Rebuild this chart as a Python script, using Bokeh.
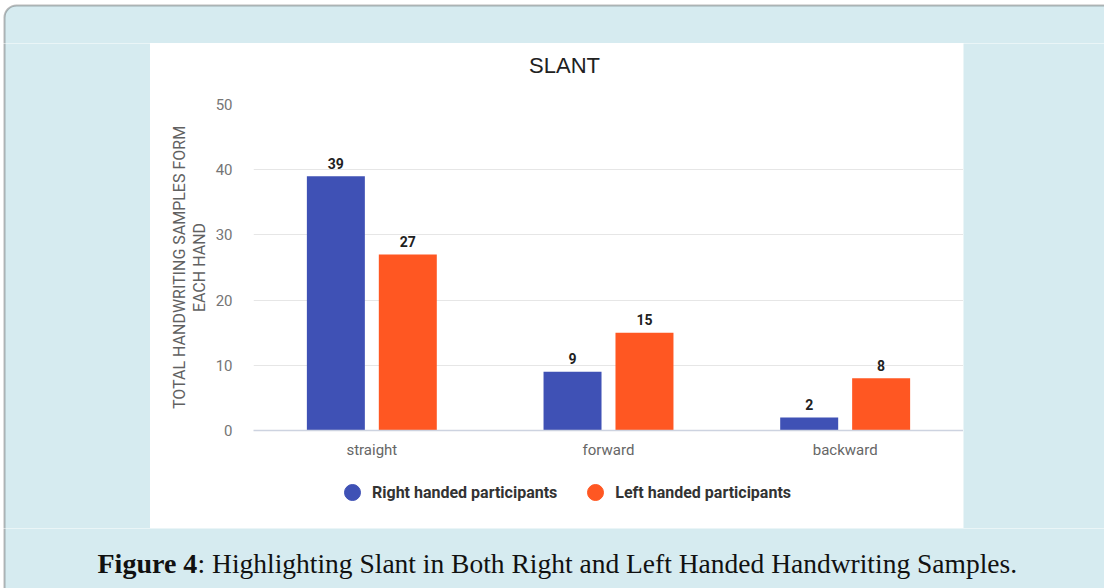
from bokeh.plotting import figure
from bokeh.layouts import column, row
from bokeh.models import (ColumnDataSource, Range1d, FactorRange, BoxAnnotation, Label,
                          Legend, LegendItem, FixedTicker)
from bokeh.transform import dodge
from bokeh.core.properties import value
from bokeh.embed import file_html
from bokeh.resources import INLINE

# ---- data ----
categories = ["straight", "forward", "backward"]
right_handed = [39, 9, 2]
left_handed = [27, 15, 8]
series_names = ["Right handed participants", "Left handed participants"]
y_ticks = [0, 10, 20, 30, 40, 50]
chart_title = "SLANT"
y_title = "TOTAL HANDWRITING SAMPLES FORM\nEACH HAND"
caption_bold = "Figure 4"
caption_rest = ": Highlighting Slant in Both Right and Left Handed Handwriting Samples."

# ---- style ----
PAGE_BG = "#d6ebf0"
BORDER = "#1a1a1a"
BLUE = "#3f51b5"
ORANGE = "#ff5722"

TOTAL_W = 1104
TOP_H = 43
MID_H = 485
CAP_H = 60
LEFT_W = 150
MAIN_W = 813
RIGHT_W = TOTAL_W - LEFT_W - MAIN_W

TITLE_H = 49
LEG_H = 65
CHART_H = MID_H - TITLE_H - LEG_H


def blank(w, h, fill):
    f = figure(width=w, height=h, x_range=Range1d(0, 1), y_range=Range1d(0, 1),
               output_backend="svg", toolbar_location=None, title=None,
               x_axis_location=None, y_axis_location=None, min_border=0,
               frame_align=False)
    f.outline_line_color = None
    f.xgrid.visible = False
    f.ygrid.visible = False
    f.border_fill_color = fill
    f.background_fill_color = fill
    return f


def filler(w, h, with_border, top_edge=None):
    if not with_border:
        return blank(w, h, PAGE_BG)
    f = blank(w, h, "white")
    top = 2000 if top_edge is None else top_edge
    f.add_layout(BoxAnnotation(left=4, right=3000, top=top, bottom=-2000,
                               left_units="screen", right_units="screen",
                               top_units="screen", bottom_units="screen",
                               fill_color=PAGE_BG, fill_alpha=1.0,
                               line_color=BORDER, line_width=2, border_radius=12))
    return f


top_fig = filler(TOTAL_W, TOP_H, True, top_edge=TOP_H - 5)
left_fig = filler(LEFT_W, MID_H, True)
right_fig = filler(RIGHT_W, MID_H, False)
cap_fig = filler(TOTAL_W, CAP_H, True)

cap_fig.add_layout(Label(x=97, y=25, x_units="screen", y_units="screen", text=caption_bold,
                         text_align="left", text_baseline="alphabetic",
                         text_font="Liberation Serif", text_font_style="bold",
                         text_font_size="28px", text_color="#111111"))
cap_fig.add_layout(Label(x=197, y=25, x_units="screen", y_units="screen", text=caption_rest,
                         text_align="left", text_baseline="alphabetic",
                         text_font="Liberation Serif", text_font_size="27.5px",
                         text_color="#111111"))

# ---- title strip ----
title_fig = blank(MAIN_W, TITLE_H, "white")
title_fig.add_layout(Label(x=414, y=TITLE_H - 22, x_units="screen", y_units="screen",
                           text=chart_title, text_align="center", text_baseline="middle",
                           text_font="Liberation Sans", text_font_size="22px",
                           text_color="#212121"))

# ---- main chart ----
FL, FT, FB = 103, 12, 33
p = figure(width=MAIN_W, height=CHART_H, x_range=FactorRange(factors=categories),
           y_range=Range1d(0, 50), output_backend="svg", toolbar_location=None,
           min_border_left=FL, min_border_right=0, min_border_top=FT, min_border_bottom=FB,
           frame_align=False, title=None)
p.border_fill_color = "white"
p.background_fill_color = "white"
p.outline_line_color = None

src = ColumnDataSource(dict(cat=categories, right=right_handed, left=left_handed,
                            right_txt=[str(v) for v in right_handed],
                            left_txt=[str(v) for v in left_handed]))

OFF = 0.152
BW = 0.245
p.vbar(x=dodge("cat", -OFF, range=p.x_range), top="right", width=BW, source=src,
       fill_color=BLUE, line_color=None)
p.vbar(x=dodge("cat", OFF, range=p.x_range), top="left", width=BW, source=src,
       fill_color=ORANGE, line_color=None)

for off, col in ((-OFF, "right"), (OFF, "left")):
    p.text(x=dodge("cat", off, range=p.x_range), y=col, text=col + "_txt", source=src,
           text_align="center", text_baseline="alphabetic", y_offset=-13,
           text_font=value("Roboto"), text_font_style="bold", text_font_size="14px",
           text_color="#212121")

p.xgrid.grid_line_color = None
p.ygrid.grid_line_color = "#e6e6e6"

p.yaxis.ticker = FixedTicker(ticks=y_ticks)
p.yaxis.axis_line_color = None
p.yaxis.major_tick_line_color = None
p.yaxis.minor_tick_line_color = None
p.yaxis.major_tick_out = 0
p.yaxis.major_tick_in = 0
p.yaxis.major_label_standoff = 21
p.yaxis.major_label_text_font = "Roboto"
p.yaxis.major_label_text_font_size = "15px"
p.yaxis.major_label_text_color = "#757575"
p.yaxis.axis_label = y_title
p.yaxis.axis_label_text_font = "Roboto"
p.yaxis.axis_label_text_font_size = "16px"
p.yaxis.axis_label_text_font_style = "normal"
p.yaxis.axis_label_text_color = "#616161"
p.yaxis.axis_label_text_line_height = 1.03
p.yaxis.axis_label_standoff = 4
p.yaxis.axis_label_text_align = "center"

p.xaxis.axis_line_color = "#cdd3e0"
p.xaxis.axis_line_width = 1.5
p.xaxis.major_tick_line_color = None
p.xaxis.minor_tick_line_color = None
p.xaxis.major_tick_out = 0
p.xaxis.major_tick_in = 0
p.xaxis.major_label_standoff = 10
p.xaxis.major_label_text_font = "Roboto"
p.xaxis.major_label_text_font_size = "15px"
p.xaxis.major_label_text_color = "#666666"

# ---- legend strip ----
leg_fig = blank(MAIN_W, LEG_H, "white")
# hidden anchor points (outside the strip's range) so the legend can draw its markers
d1 = leg_fig.scatter(x=[-5], y=[-5], marker="circle", size=16, fill_color=BLUE, line_color=BLUE)
d2 = leg_fig.scatter(x=[-5], y=[-5], marker="circle", size=16, fill_color=ORANGE, line_color=ORANGE)
legend = Legend(items=[LegendItem(label=series_names[0], renderers=[d1]),
                       LegendItem(label=series_names[1], renderers=[d2])],
                orientation="horizontal", location=(182, 16),
                glyph_width=40, glyph_height=40, label_standoff=0, spacing=18,
                padding=0, margin=0, border_line_color=None, background_fill_alpha=0,
                label_text_font="Roboto", label_text_font_style="bold",
                label_text_font_size="16px", label_text_color="#333333")
leg_fig.add_layout(legend, "center")

layout = column(top_fig,
                row(left_fig, column(title_fig, p, leg_fig), right_fig),
                cap_fig)

open("out.html", "w").write(file_html(layout, INLINE))
